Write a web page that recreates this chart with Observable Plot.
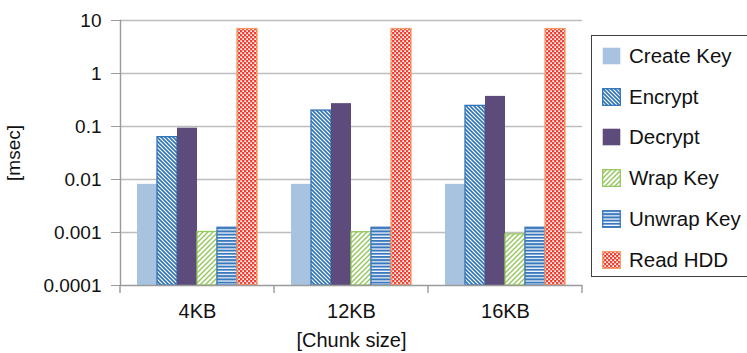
<!DOCTYPE html>
<html>
<head>
<meta charset="utf-8">
<script src="https://cdn.jsdelivr.net/npm/d3@7"></script>
<script src="https://cdn.jsdelivr.net/npm/@observablehq/plot@0.6"></script>
<style>
  html, body { margin: 0; padding: 0; background: #fff; }
  #wrap { position: relative; width: 747px; height: 353px; font-family: "Liberation Sans", Arial, Helvetica, sans-serif; }
  #legend { position: absolute; left: 591px; top: 35px; width: 170px; height: 242px; border: 1.3px solid #404040; box-sizing: border-box; background: #fff; }
  .item { position: absolute; left: 10px; height: 20px; display: flex; align-items: center; font-size: 20.5px; color: #111; white-space: nowrap; }
  .item svg { margin-right: 8px; }
</style>
</head>
<body>
<svg width="0" height="0" style="position:absolute">
  <defs>
    <pattern id="p-enc" width="4" height="4" patternUnits="userSpaceOnUse">
      <rect width="4" height="4" fill="#fff"/>
      <path d="M-1,-1L5,5M-1,3L1,5M3,-1L5,1" stroke="#2f74b8" stroke-width="1.6"/>
    </pattern>
    <pattern id="p-wrap" width="5" height="5" patternUnits="userSpaceOnUse">
      <rect width="5" height="5" fill="#fff"/>
      <path d="M-1,6L6,-1M-1,1L1,-1M4,6L6,4" stroke="#92c85a" stroke-width="1.4"/>
    </pattern>
    <pattern id="p-unwrap" width="4" height="3.2" patternUnits="userSpaceOnUse">
      <rect width="4" height="3.2" fill="#fff"/>
      <rect width="4" height="2" fill="#3a78bd"/>
    </pattern>
    <pattern id="p-hdd" width="4" height="4" patternUnits="userSpaceOnUse">
      <rect width="4" height="4" fill="#f03a2e"/>
      <rect x="0.3" y="0.3" width="1.8" height="1.8" fill="#fff"/>
      <rect x="2.3" y="2.3" width="1.8" height="1.8" fill="#fff"/>
    </pattern>
  </defs>
</svg>
<div id="wrap">
  <div id="chart"></div>
  <div id="legend"></div>
</div>
<script>
// ---- data ----
const groups = ["4KB", "12KB", "16KB"];
const series = ["Create Key", "Encrypt", "Decrypt", "Wrap Key", "Unwrap Key", "Read HDD"];
const createKey = [0.0081, 0.0081, 0.0081];
const encrypt   = [0.063, 0.2, 0.245];
const decrypt   = [0.093, 0.27, 0.37];
const wrapKey   = [0.00102, 0.00101, 0.00092];
const unwrapKey = [0.00123, 0.00123, 0.00123];
const readHDD   = [6.9, 6.9, 6.9];
const yTicks = [0.0001, 0.001, 0.01, 0.1, 1, 10];
const xLabel = "[Chunk size]";
const yLabel = "[msec]";

// ---- styles ----
const fills   = ["#a8c3e0", "url(#p-enc)", "#5d4b7b", "url(#p-wrap)", "url(#p-unwrap)", "url(#p-hdd)"];
const strokes = ["none", "#2f74b8", "none", "#92c85a", "#3a78bd", "#f59a62"];

const valuesBySeries = [createKey, encrypt, decrypt, wrapKey, unwrapKey, readHDD];
const data = [];
series.forEach((s, i) => groups.forEach((g, j) => data.push({group: g, series: s, value: valuesBySeries[i][j]})));

const yMin = yTicks[0], yMax = yTicks[yTicks.length - 1];

const chart = Plot.plot({
  width: 747,
  height: 353,
  marginLeft: 120,
  marginRight: 165,
  marginTop: 20,
  marginBottom: 68,
  style: {fontFamily: '"Liberation Sans", Arial, Helvetica, sans-serif', color: "#111", background: "#fff"},
  fx: {domain: groups, padding: 0},
  x: {domain: series, paddingInner: 0, paddingOuter: 0.73, axis: null},
  y: {type: "log", domain: [yMin, yMax]},
  marks: [
    Plot.ruleY(yTicks.slice(1), {stroke: "#bdbdbd", strokeWidth: 1.4}),
    ...series.map((s, i) => Plot.barY(data.filter(d => d.series === s), {
      fx: "group", x: "series", y1: yMin, y2: "value",
      fill: fills[i], stroke: strokes[i], strokeWidth: 1.3
    })),
    Plot.ruleY([yMin], {stroke: "#9a9a9a", strokeWidth: 1.4}),
    Plot.frame({anchor: "left", facetAnchor: "left", stroke: "#9a9a9a", strokeWidth: 1.4}),
    Plot.axisY({ticks: yTicks, tickFormat: d => d.toString(), tickSize: 9, tickPadding: 10, fontSize: 19,
      stroke: "#9a9a9a", label: yLabel, labelAnchor: "center", labelArrow: "none", labelOffset: 114}),
    Plot.axisFx({anchor: "bottom", tickSize: 0, tickPadding: 18, fontSize: 20,
      label: xLabel, labelAnchor: "center", labelArrow: "none", labelOffset: 61})
  ]
});
document.getElementById("chart").appendChild(chart);

// category boundary ticks, positioned with Plot's own fx and y scales
const fx = chart.scale("fx"), ys = chart.scale("y");
const y0 = ys.apply(yMin);
const bounds = groups.map(g => fx.apply(g)).concat([fx.apply(groups[groups.length - 1]) + fx.bandwidth]);
d3.select(chart).append("g").selectAll("line").data(bounds).join("line")
  .attr("x1", d => d).attr("x2", d => d).attr("y1", y0).attr("y2", y0 + 8)
  .attr("stroke", "#9a9a9a").attr("stroke-width", 1.4);

// legend
const legend = d3.select("#legend");
series.forEach((s, i) => {
  const it = legend.append("div").attr("class", "item").style("top", (10 + i * 40.7) + "px");
  const sv = it.append("svg").attr("width", 19).attr("height", 18);
  sv.append("rect").attr("x", 0.7).attr("y", 0.7).attr("width", 17.6).attr("height", 16.6)
    .attr("fill", fills[i]).attr("stroke", strokes[i]).attr("stroke-width", 1.3);
  it.append("span").text(s);
});
</script>
</body>
</html>
